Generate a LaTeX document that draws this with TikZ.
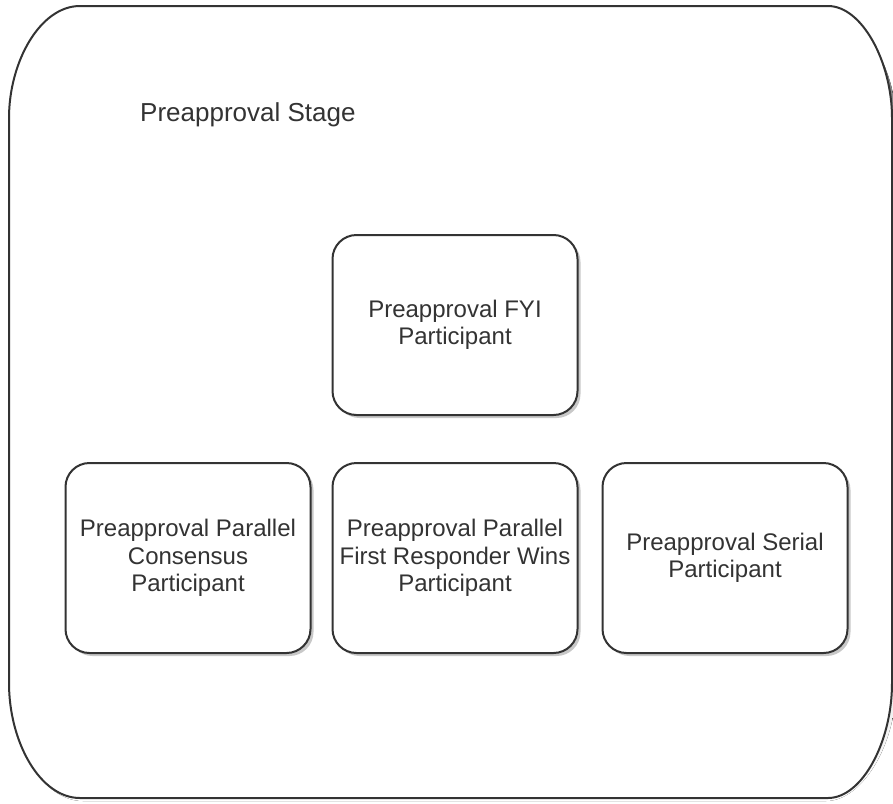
\documentclass[tikz,border=0pt]{standalone}
\usepackage{fontspec}
\setmainfont{Liberation Sans}
\usetikzlibrary{shadows}
\definecolor{ink}{HTML}{333333}
\definecolor{shade}{HTML}{C8C8C8}
\tikzset{
  part/.style={draw=ink, line width=2pt, fill=white, rounded corners=24pt,
    minimum width=245pt, minimum height=190pt, align=center, text=ink,
    font=\fontsize{24}{27.5}\selectfont, inner sep=0pt,
    general shadow={fill=shade, shadow xshift=3pt, shadow yshift=-3pt}},
  stagelabel/.style={text=ink, font=\fontsize{26}{30}\selectfont, anchor=west, inner sep=0pt}
}
\begin{document}
\begin{tikzpicture}[x=1pt,y=-1pt]
\useasboundingbox (0,0) rectangle (893,803);
% outer stage shadow
\fill[shade] (83,9) -- (826,9) .. controls (862,9) and (896,70) .. (896,121)
  -- (896,686) .. controls (896,745) and (862,801) .. (826,801)
  -- (83,801) .. controls (42,801) and (12,745) .. (12,686)
  -- (12,121) .. controls (12,70) and (42,9) .. (83,9) -- cycle;
% outer stage
\draw[ink, line width=2pt, fill=white] (80,6) -- (828,6) .. controls (862,6) and (892,62) .. (892,118)
  -- (892,683) .. controls (892,742) and (862,798) .. (828,798)
  -- (80,798) .. controls (40,798) and (9,742) .. (9,683)
  -- (9,118) .. controls (9,62) and (40,6) .. (80,6) -- cycle;
\node[stagelabel] (stage) at (140,115) {Preapproval Stage};
\node[part, minimum height=180pt] (fyi) at (455,325) {Preapproval FYI\\Participant};
\node[part] (cons) at (188,558) {Preapproval Parallel\\Consensus\\Participant};
\node[part] (first) at (455,558) {Preapproval Parallel\\First Responder Wins\\Participant};
\node[part] (serial) at (725,558) {Preapproval Serial\\Participant};
\end{tikzpicture}
\end{document}
